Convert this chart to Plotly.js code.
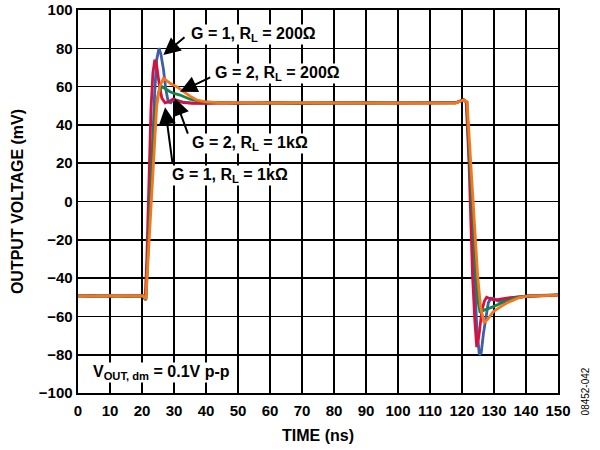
<!DOCTYPE html>
<html>
<head>
<meta charset="utf-8">
<script src="https://cdn.plot.ly/plotly-3.0.1.min.js"></script>
<style>body{margin:0;background:#fff}#chart{width:600px;height:450px}</style>
</head>
<body>
<div id="chart"></div>
<script>
// G = 1, RL = 200 ohm (blue)
const tBlue = [0,5,10,15,20.3,21.2,21.8,22.6,23.3,24.0,24.6,25.3,25.9,26.7,27.4,28.2,29.0,29.8,31.0,32.5,35,40,45,50,60,70,80,90,100,110,118,120.5,121.5,122.3,123.2,123.9,124.6,125.4,126.0,126.7,127.5,128.2,129.0,129.8,130.8,131.9,134,137,140,145,150];
const vBlue = [-49.2,-49.5,-49.0,-49.4,-49.3,-51,-28,0,30,58,74,80,77,69,59,52,51.5,53.5,53,52,51.5,51.2,51.6,51.3,51.5,51.4,51.6,51.3,51.5,51.6,51.5,53,52,22,-10,-39,-65,-80,-79,-69,-60,-53,-50.5,-50.6,-51.5,-52.3,-51,-50,-49.5,-49.2,-48.8];
// G = 1, RL = 1 kohm (red)
const tRed = [0,5,10,15,20.3,21.0,21.5,22.0,22.8,23.4,24.0,24.6,25.4,26.2,27.2,28.2,29.5,31,33,36,40,45,50,60,70,80,90,100,110,118,120.5,121.3,122.2,123.3,124.0,124.6,125.3,126.2,127.0,127.7,128.8,130,132,135,140,145,150];
const vRed = [-49.3,-49.1,-49.5,-49.2,-49.3,-51,-30,2,48,67,74,71,61,54,51.5,52,53.2,52.5,51.6,51.3,51.4,51.5,51.4,51.6,51.3,51.5,51.6,51.4,51.5,51.6,53.2,52,20,-39,-62,-76,-70,-57,-52,-50,-50.8,-51.5,-51,-50.2,-49.6,-49.1,-48.9];
// G = 2, RL = 1 kohm (green)
const tGreen = [0,5,10,15,20.3,21.2,22.0,22.5,23.3,24.2,25.2,26.3,27.3,28.75,30.3,31.9,35,39,45,50,60,70,80,90,100,110,118,120.5,121.5,122.4,123.4,124.4,125.0,125.6,126.5,127.8,129.8,132,136,140.6,145,150];
const vGreen = [-49.4,-49.2,-49.3,-49.5,-49.3,-51.5,-20,0,28,48,57,60,59,57.3,56.3,55.6,53.4,52,51.5,51.4,51.5,51.3,51.5,51.6,51.4,51.5,51.5,53,51.8,21,-12,-39,-52,-57.5,-57,-56.3,-54.9,-53.3,-50.6,-49.2,-49,-48.8];
// G = 2, RL = 200 ohm (orange)
const tOrange = [0,5,10,15,20.3,21.2,22.2,23.0,23.8,24.6,25.5,26.7,27.8,29.0,30.8,32.9,35,37.1,40,45,50,60,70,80,90,100,110,118,120.5,121.6,122.7,123.8,124.9,125.8,126.9,128,129.8,132,134,136,138.1,140.6,145,150];
const vOrange = [-49.3,-49.4,-49.1,-49.3,-49.3,-51,-22,2,30,50,60,64.3,63,61.5,60,57.3,55,53,52,51.5,51.5,51.4,51.6,51.3,51.5,51.4,51.6,51.4,53,52,21,-12,-39,-55,-63.3,-61.5,-57.5,-55,-53,-51.5,-50,-49.4,-49,-48.9];

const seriesNames = ['G = 1, RL = 200Ω','G = 1, RL = 1kΩ','G = 2, RL = 1kΩ','G = 2, RL = 200Ω'];
const seriesColors = ['#3d5fa8','#d5123f','#13844a','#f7761c'];
const xTicks = [0,10,20,30,40,50,60,70,80,90,100,110,120,130,140,150];
const yTicks = [-100,-80,-60,-40,-20,0,20,40,60,80,100];

const T = [tBlue,tRed,tGreen,tOrange];
const V = [vBlue,vRed,vGreen,vOrange];
const traces = T.map((t,i)=>({
  x:t, y:V[i], type:'scatter', mode:'lines', name:seriesNames[i],
  line:{color:seriesColors[i], width:2.8}
}));

const F = 'Liberation Sans, Arial, Helvetica, sans-serif';
const lab = (text,x,y)=>({text:text,x:x,y:y,xref:'x',yref:'y',xanchor:'left',yanchor:'middle',showarrow:false,
  bgcolor:'#ffffff',borderpad:0,font:{family:F,size:16,weight:'bold',color:'#000'}});
const arr = (x,y,ax,ay)=>({text:'',x:x,y:y,ax:ax,ay:ay,xref:'x',yref:'y',axref:'x',ayref:'y',showarrow:true,
  arrowhead:2,arrowsize:1.7,arrowwidth:2,arrowcolor:'#000'});

const axisCommon = {
  showgrid:true, gridcolor:'#000', gridwidth:1.6, zeroline:false,
  showline:true, linecolor:'#000', linewidth:2.4, mirror:true, ticks:'',
  tickfont:{family:F,size:15,weight:'bold',color:'#000'}
};

const layout = {
  width:600, height:450,
  margin:{l:78,r:42,t:10,b:57},
  paper_bgcolor:'#fff', plot_bgcolor:'#fff',
  showlegend:false,
  font:{family:F,color:'#000'},
  xaxis:Object.assign({}, axisCommon, {range:[0,150], tickvals:xTicks, ticktext:xTicks.map(String),
    ticklabelstandoff:3,
    title:{text:'TIME (ns)', font:{family:F,size:16,weight:'bold',color:'#000'}, standoff:12}}),
  yaxis:Object.assign({}, axisCommon, {range:[-100,100], tickvals:yTicks,
    ticktext:yTicks.map(v=>v<0?'\u2212'+Math.abs(v):String(v)),
    title:{text:'OUTPUT VOLTAGE (mV)', font:{family:F,size:16,weight:'bold',color:'#000'}, standoff:11}}),
  annotations:[
    lab('G = 1, R<sub>L</sub> = 200Ω',35.0,87.0),
    lab('G = 2, R<sub>L</sub> = 200Ω',42.5,66.6),
    lab('G = 2, R<sub>L</sub> = 1kΩ',35.3,30.1),
    lab('G = 1, R<sub>L</sub> = 1kΩ',29.0,13.4),
    lab('V<sub>OUT, dm</sub> = 0.1V p-p',4.3,-89.5),
    arr(26.66,76.5,33.75,86.4),
    arr(31.9,57.3,41.8,65.2),
    arr(30.3,53.9,34.5,34.7),
    arr(27.2,49.2,29.6,19.1),
    {text:'08452-042',xref:'paper',yref:'paper',x:1.073,y:-0.065,showarrow:false,textangle:-90,
     font:{family:F,size:10,color:'#000'}}
  ]
};
Plotly.newPlot('chart', traces, layout, {displayModeBar:false, staticPlot:true});
</script>
</body>
</html>
